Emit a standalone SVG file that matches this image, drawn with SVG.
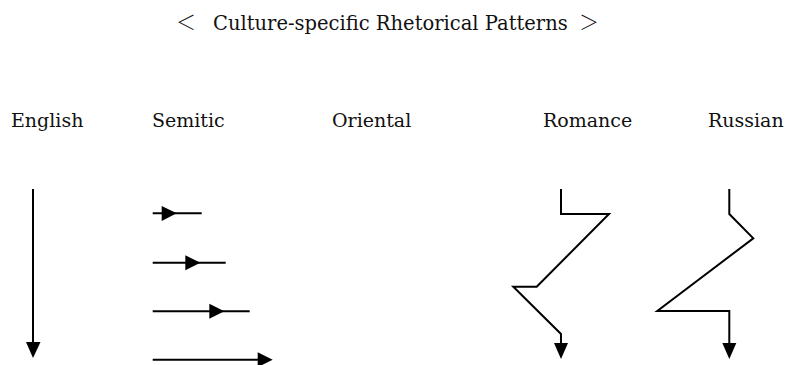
<svg xmlns="http://www.w3.org/2000/svg" width="790" height="365" viewBox="0 0 790 365">
<style>
.t{font-family:"DejaVu Serif","Noto Sans CJK JP",serif;fill:#111;}
.title{font-size:19.5px;}
.br{font-family:"Noto Sans CJK JP",sans-serif;font-size:20px;font-weight:300;}
.lab{font-size:19px;}
.ln{stroke:#000;stroke-width:2;fill:none;stroke-linejoin:miter;}
.hd{fill:#000;stroke:none;}
</style>
<rect width="790" height="365" fill="#fff"/>
<g id="title">
<text class="t title" y="30"><tspan class="br" x="176">＜</tspan><tspan x="213">Culture-specific Rhetorical Patterns</tspan><tspan class="br" x="579">＞</tspan></text>
</g>
<g id="labels">
<text class="t lab" x="11" y="127">English</text>
<text class="t lab" x="152" y="127">Semitic</text>
<text class="t lab" x="332" y="127">Oriental</text>
<text class="t lab" x="543" y="127">Romance</text>
<text class="t lab" x="708" y="127">Russian</text>
</g>
<g id="english">
<line class="ln" x1="33" y1="189" x2="33" y2="343"/>
<polygon class="hd" points="26,342 40.5,342 33,358"/>
</g>
<g id="semitic">
<line class="ln" x1="152.7" y1="213.3" x2="201.7" y2="213.3"/>
<polygon class="hd" points="161.7,206 161.7,221 176.7,213.3"/>
<line class="ln" x1="152.7" y1="262.7" x2="225.7" y2="262.7"/>
<polygon class="hd" points="185.3,255.2 185.3,270.2 200.3,262.7"/>
<line class="ln" x1="152.7" y1="311.3" x2="249.7" y2="311.3"/>
<polygon class="hd" points="209.3,303.8 209.3,318.8 224.3,311.3"/>
<line class="ln" x1="152.7" y1="359.7" x2="259" y2="359.7"/>
<polygon class="hd" points="257.7,352.2 257.7,367.2 272.7,359.7"/>
</g>
<g id="oriental"></g>
<g id="romance">
<polyline class="ln" points="561,189 561,214 609,214 536.7,286.7 513.3,286.7 561,334 561,344"/>
<polygon class="hd" points="554,343 568,343 561,359"/>
</g>
<g id="russian">
<polyline class="ln" points="729.3,189 729.3,214 753.3,238.3 657.3,311 729.3,311 729.3,344"/>
<polygon class="hd" points="722.3,343 736.3,343 729.3,359"/>
</g>
</svg>
